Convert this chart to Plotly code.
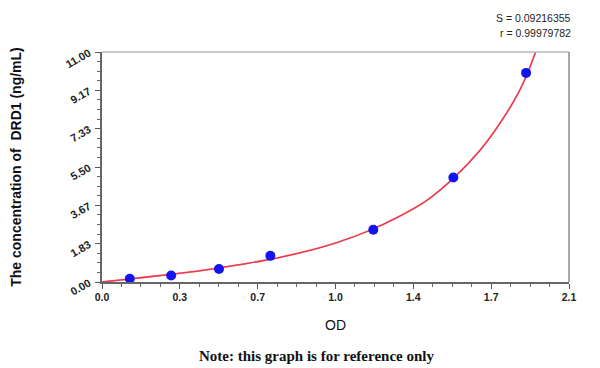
import plotly.graph_objects as go

# Standard points (OD, concentration)
std_od = [0.125, 0.311, 0.526, 0.757, 1.22, 1.58, 1.907]
std_conc = [0.156, 0.312, 0.625, 1.25, 2.5, 5.0, 10.0]

# Fitted curve
curve_od = [0.0, 0.13, 0.26, 0.40, 0.53, 0.66, 0.80, 0.93, 1.06, 1.20, 1.33, 1.46, 1.58, 1.70, 1.79, 1.87, 1.91, 1.95, 1.97]
curve_conc = [0.0, 0.15, 0.31, 0.48, 0.68, 0.90, 1.18, 1.50, 1.90, 2.45, 3.10, 3.90, 4.96, 6.30, 7.60, 9.00, 9.90, 11.0, 11.6]

x_tickvals = [0.0, 0.35, 0.70, 1.05, 1.40, 1.75, 2.10]
x_ticktext = ["0.0", "0.3", "0.7", "1.0", "1.4", "1.7", "2.1"]
y_tickvals = [0.0, 11/6, 22/6, 5.5, 44/6, 55/6, 11.0]
y_ticktext = ["0.00", "1.83", "3.67", "5.50", "7.33", "9.17", "11.00"]

fig = go.Figure()
fig.add_trace(go.Scatter(x=curve_od, y=curve_conc, mode="lines", line=dict(color="#f2a040", width=1.8), line_shape="spline", hoverinfo="skip"))
fig.add_trace(go.Scatter(x=curve_od, y=curve_conc, mode="lines", line=dict(color="#ec2f6c", width=1.3), line_shape="spline"))
fig.add_trace(go.Scatter(x=std_od, y=std_conc, mode="markers", marker=dict(color="#1414f0", size=10, line=dict(width=0)), cliponaxis=False))

tickfont = dict(family="Liberation Sans, Arial", size=10.5, color="#222", weight="bold")
ytickfont = dict(family="Liberation Sans, Arial", size=11, color="#222", weight="bold")

# page body has an 8px margin, so the figure is sized to fit the 600x368 window
fig.update_layout(
    width=592, height=360,
    margin=dict(l=93.5, r=31, t=44, b=86, autoexpand=False),
    paper_bgcolor="white", plot_bgcolor="white",
    showlegend=False,
    xaxis=dict(range=[0, 2.1], tickvals=x_tickvals, ticktext=x_ticktext, ticks="outside", ticklen=5,
               tickcolor="#555", showline=True, linecolor="#666", linewidth=1.5, showgrid=False, zeroline=False,
               tickfont=tickfont, automargin=False,
               minor=dict(dtick=0.0875, ticks="outside", ticklen=3, tickcolor="#666", showgrid=False),
               title=dict(text="OD", font=dict(family="Liberation Sans, Arial", size=14, color="#111"), standoff=18)),
    yaxis=dict(range=[0, 11], tickvals=y_tickvals, ticktext=y_ticktext, ticks="outside", ticklen=5,
               tickcolor="#555", showline=True, linecolor="#666", linewidth=1.5, showgrid=False, zeroline=False,
               tickfont=ytickfont, tickangle=-30, automargin=False, ticklabelstandoff=4,
               minor=dict(dtick=11/24, ticks="outside", ticklen=3, tickcolor="#666", showgrid=False),
               title=dict(text="The concentration of  DRD1 (ng/mL)", font=dict(family="Liberation Sans, Arial", size=14, color="#111", weight="bold"), standoff=46)),
    shapes=[
        dict(type="line", xref="paper", yref="paper", x0=0, x1=1, y0=1, y1=1, line=dict(color="#b8b8b8", width=1.5)),
        dict(type="line", xref="paper", yref="paper", x0=1, x1=1, y0=0, y1=1, line=dict(color="#8a8a8a", width=1.5)),
    ],
    annotations=[
        dict(text="S = 0.09216355", xref="paper", yref="paper", x=1.0, y=1.0, yshift=34, xshift=4, xanchor="right", yanchor="middle",
             showarrow=False, font=dict(family="Liberation Sans, Arial", size=10.5, color="#222")),
        dict(text="r = 0.99979782", xref="paper", yref="paper", x=1.0, y=1.0, yshift=19, xshift=4, xanchor="right", yanchor="middle",
             showarrow=False, font=dict(family="Liberation Sans, Arial", size=10.5, color="#222")),
        dict(text="Note: this graph is for reference only", xref="paper", yref="paper", x=0.459, y=0, yshift=-74,
             xanchor="center", yanchor="middle", showarrow=False,
             font=dict(family="Liberation Serif, Times New Roman", size=15, color="#111", weight="bold")),
    ],
)

fig.write_html("out.html")
